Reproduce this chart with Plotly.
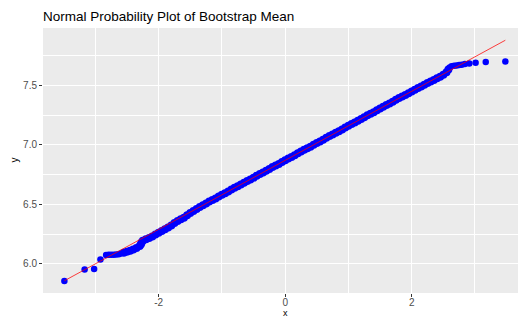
import plotly.graph_objects as go

# Theoretical normal quantiles (x) and sorted bootstrap means (y)
theoretical = [
    -3.49, -3.17, -3.02, -2.92, -2.83, -2.79, -2.75, -2.71, -2.67, -2.63,
    -2.60, -2.55, -2.50, -2.45, -2.40, -2.35, -2.30, -2.28, -2.27, -2.25,
    -2.20, -2.15, -2.10, -2.05, -2.00, -1.95, -1.90, -1.85, -1.80, -1.75,
    -1.70, -1.65, -1.60, -1.55, -1.50, -1.45, -1.40, -1.35, -1.30, -1.25,
    -1.20, -1.15, -1.10, -1.05, -1.00, -0.95, -0.90, -0.85, -0.80, -0.75,
    -0.70, -0.65, -0.60, -0.55, -0.50, -0.45, -0.40, -0.35, -0.30, -0.25,
    -0.20, -0.15, -0.10, -0.05, 0.00, 0.05, 0.10, 0.15, 0.20, 0.25,
    0.30, 0.35, 0.40, 0.45, 0.50, 0.55, 0.60, 0.65, 0.70, 0.75,
    0.80, 0.85, 0.90, 0.95, 1.00, 1.05, 1.10, 1.15, 1.20, 1.25,
    1.30, 1.35, 1.40, 1.45, 1.50, 1.55, 1.60, 1.65, 1.70, 1.75,
    1.80, 1.85, 1.90, 1.95, 2.00, 2.05, 2.10, 2.15, 2.20, 2.25,
    2.30, 2.35, 2.40, 2.45, 2.50, 2.55, 2.58, 2.60, 2.63, 2.67,
    2.71, 2.75, 2.79, 2.84, 2.91, 3.01, 3.17, 3.48,
]
sample_mean = [
    5.857, 5.953, 5.958, 6.037, 6.076, 6.077, 6.078, 6.078, 6.079, 6.082,
    6.088, 6.095, 6.103, 6.112, 6.122, 6.135, 6.150, 6.165, 6.180, 6.195,
    6.207, 6.218, 6.231, 6.247, 6.263, 6.277, 6.291, 6.306, 6.323, 6.345,
    6.362, 6.375, 6.388, 6.410, 6.428, 6.445, 6.462, 6.478, 6.494, 6.508,
    6.524, 6.538, 6.551, 6.568, 6.582, 6.594, 6.609, 6.626, 6.641, 6.653,
    6.667, 6.683, 6.698, 6.710, 6.725, 6.741, 6.756, 6.769, 6.783, 6.799,
    6.814, 6.827, 6.841, 6.857, 6.872, 6.886, 6.899, 6.914, 6.930, 6.945,
    6.959, 6.972, 6.986, 7.002, 7.017, 7.030, 7.044, 7.060, 7.075, 7.089,
    7.102, 7.116, 7.131, 7.147, 7.162, 7.176, 7.189, 7.203, 7.218, 7.234,
    7.249, 7.262, 7.276, 7.291, 7.306, 7.321, 7.335, 7.349, 7.363, 7.379,
    7.394, 7.407, 7.420, 7.434, 7.449, 7.464, 7.478, 7.492, 7.506, 7.520,
    7.533, 7.546, 7.560, 7.574, 7.590, 7.612, 7.635, 7.652, 7.662, 7.665,
    7.668, 7.672, 7.675, 7.680, 7.685, 7.690, 7.697, 7.702,
]

# Reference line through the quartiles
line_intercept = 6.871
line_slope = 0.29

x_ticks = [-2, 0, 2]
x_tick_labels = ["-2", "0", "2"]
y_ticks = [6.0, 6.5, 7.0, 7.5]
y_tick_labels = ["6.0", "6.5", "7.0", "7.5"]

FONT = "Liberation Sans, Arial, sans-serif"

# The dense central run of points reads as a thicker band than the
# isolated points out in the tails.
marker_sizes = [8 if abs(v) < 2.6 else 6.5 for v in theoretical]

x_end = [min(theoretical), max(theoretical)]
y_end = [line_intercept + line_slope * v for v in x_end]

fig = go.Figure()
fig.add_trace(go.Scatter(
    x=theoretical, y=sample_mean, mode="markers",
    marker=dict(color="#0000ff", size=marker_sizes, opacity=1,
                line=dict(width=0)),
    hoverinfo="x+y", showlegend=False,
))
fig.add_trace(go.Scatter(
    x=x_end, y=y_end, mode="lines",
    line=dict(color="rgba(255,0,0,0.75)", width=1),
    hoverinfo="skip", showlegend=False,
))

axis_common = dict(
    showgrid=True, gridcolor="#ffffff", gridwidth=1.1,
    zeroline=False, showline=False,
    ticks="outside", ticklen=3, tickwidth=1, tickcolor="#333333",
    tickfont=dict(family=FONT, size=10, color="#4d4d4d"),
)

fig.update_layout(
    width=518, height=320,
    margin=dict(l=43, r=0, t=28, b=27, autoexpand=False),
    paper_bgcolor="#ffffff", plot_bgcolor="#ebebeb",
    font=dict(family=FONT),
    title=dict(
        text="Normal Probability Plot of Bootstrap Mean",
        font=dict(family=FONT, size=13.5, color="#000000"),
        xref="paper", x=0, xanchor="left",
        yref="container", y=0.95, yanchor="middle",
    ),
    xaxis=dict(
        range=[-3.828, 3.68], tickvals=x_ticks, ticktext=x_tick_labels,
        ticklabelstandoff=-3,
        minor=dict(tickvals=[-3, -1, 1, 3], showgrid=True,
                   gridcolor="#ffffff", gridwidth=0.6, ticks=""),
        **axis_common,
    ),
    yaxis=dict(
        range=[5.756, 7.983], tickvals=y_ticks, ticktext=y_tick_labels,
        minor=dict(tickvals=[6.25, 6.75, 7.25, 7.75], showgrid=True,
                   gridcolor="#ffffff", gridwidth=0.6, ticks=""),
        **axis_common,
    ),
    annotations=[
        dict(text="x", xref="x", x=0, yref="paper", y=-0.1015,
             xanchor="center", yanchor="bottom", showarrow=False,
             font=dict(family=FONT, size=9, color="#000000")),
        dict(text="y", xref="paper", x=-0.061, yref="paper", y=0.5,
             xanchor="center", yanchor="middle", showarrow=False,
             textangle=-90,
             font=dict(family=FONT, size=10, color="#000000")),
    ],
)

fig.write_html("out.html")
